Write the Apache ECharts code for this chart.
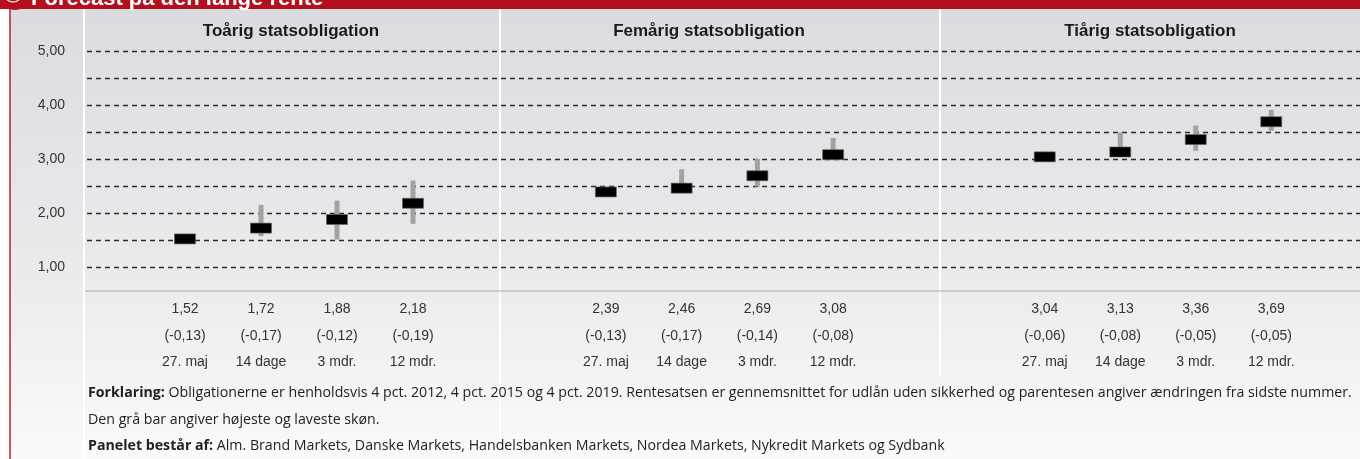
<!DOCTYPE html>
<html>
<head>
<meta charset="utf-8">
<script src="https://cdn.jsdelivr.net/npm/echarts@6/dist/echarts.min.js"></script>
<style>
  html, body { margin: 0; padding: 0; background: #fff; }
  #main { width: 1360px; height: 459px; }
</style>
</head>
<body>
<div id="main"></div>
<script>
// perioder
var dates = ['27. maj', '14 dage', '3 mdr.', '12 mdr.'];
var panelTitles = ['Toårig statsobligation', 'Femårig statsobligation', 'Tiårig statsobligation'];

// gennemsnit og aendring
var toaarig = [1.52, 1.72, 1.88, 2.18];
var toaarigChg = [-0.13, -0.17, -0.12, -0.19];
var femaarig = [2.39, 2.46, 2.69, 3.08];
var femaarigChg = [-0.13, -0.17, -0.14, -0.08];
var tiaarig = [3.04, 3.13, 3.36, 3.69];
var tiaarigChg = [-0.06, -0.08, -0.05, -0.05];

// hoejeste / laveste skoen (graa bar)
var toaarigHigh = [1.58, 2.15, 2.23, 2.60];
var toaarigLow = [1.48, 1.57, 1.51, 1.80];
var femaarigHigh = [2.42, 2.81, 3.00, 3.39];
var femaarigLow = [2.35, 2.45, 2.49, 2.98];
var tiaarigHigh = [3.08, 3.49, 3.62, 3.91];
var tiaarigLow = [3.00, 3.12, 3.15, 3.52];

var yTicks = [1, 2, 3, 4, 5];

var FONT = '"Liberation Sans", Arial, sans-serif';
var FONT2 = '"Open Sans", "Liberation Sans", sans-serif';

function dk(v) { return v.toFixed(2).replace('.', ','); }

var panels = [
  { vals: toaarig, chg: toaarigChg, hi: toaarigHigh, lo: toaarigLow, left: 147, width: 304 },
  { vals: femaarig, chg: femaarigChg, hi: femaarigHigh, lo: femaarigLow, left: 568, width: 303 },
  { vals: tiaarig, chg: tiaarigChg, hi: tiaarigHigh, lo: tiaarigLow, left: 1007, width: 302 }
];

var grids = [{ left: 87, right: 0, top: 51, bottom: 192 }];
var xAxes = [{ gridIndex: 0, type: 'value', show: false, min: 0, max: 1 }];
var yAxes = [{
  gridIndex: 0, type: 'value', min: 1, max: 5, interval: 0.5,
  axisLine: { show: false }, axisTick: { show: false },
  axisLabel: {
    margin: 22, fontSize: 14, color: '#333', fontFamily: FONT,
    formatter: function (v) { return yTicks.indexOf(v) >= 0 ? dk(v) : ''; }
  },
  splitLine: { lineStyle: { color: '#2b2b2b', width: 1.3, type: [5, 4] } }
}];
var series = [];

panels.forEach(function (p, i) {
  var gi = i + 1;
  grids.push({ left: p.left, width: p.width, top: 51, bottom: 192 });
  xAxes.push({
    gridIndex: gi, type: 'category', data: dates, boundaryGap: true,
    axisLine: { show: false }, axisTick: { show: false }, splitLine: { show: false },
    axisLabel: {
      interval: 0, margin: 29, fontSize: 14, color: '#333', fontFamily: FONT, lineHeight: 26.5,
      formatter: function (v, idx) {
        return dk(p.vals[idx]) + '\n(' + dk(p.chg[idx]) + ')\n' + v;
      }
    }
  });
  yAxes.push({ gridIndex: gi, type: 'value', min: 1, max: 5, show: false, splitLine: { show: false } });

  var rangeData = dates.map(function (d, k) { return [k, p.hi[k], p.lo[k]]; });
  series.push({
    type: 'custom', xAxisIndex: gi, yAxisIndex: gi, z: 3,
    renderItem: function (params, api) {
      var top = api.coord([api.value(0), api.value(1)]);
      var bot = api.coord([api.value(0), api.value(2)]);
      return {
        type: 'rect',
        shape: { x: top[0] - 2.5, y: top[1], width: 5, height: bot[1] - top[1] },
        style: { fill: '#a2a2a2' }
      };
    },
    data: rangeData
  });
  series.push({
    type: 'scatter', xAxisIndex: gi, yAxisIndex: gi, z: 5,
    symbol: 'rect', symbolSize: [21, 10],
    itemStyle: { color: '#000', borderColor: '#666', borderWidth: 0.6, opacity: 1 },
    data: dates.map(function (d, k) { return [k, p.vals[k]]; })
  });
});

var graphics = [
  // baggrund
  { type: 'rect', z: -10, shape: { x: 0, y: 0, width: 1360, height: 459 },
    style: { fill: new echarts.graphic.LinearGradient(0, 0, 0, 1, [
      { offset: 0, color: '#dadbdf' }, { offset: 0.6, color: '#eaebed' }, { offset: 1, color: '#fafafa' }
    ]) } },
  { type: 'rect', z: -9, shape: { x: 0, y: 0, width: 9, height: 459 }, style: { fill: '#fff' } },
  { type: 'line', z: 50, shape: { x1: 10, y1: 8, x2: 10, y2: 459 }, style: { stroke: '#cc2a32', lineWidth: 1.6 } },
  // header
  { type: 'rect', z: 50, shape: { x: 0, y: 0, width: 1360, height: 9 }, style: { fill: '#b40f1d' } },
  { type: 'circle', z: 51, shape: { cx: 15, cy: -4, r: 14 }, style: { fill: '#b40f1d' } },
  { type: 'circle', z: 52, shape: { cx: 13, cy: -7, r: 9 }, style: { fill: 'none', stroke: '#f3c9cc', lineWidth: 1.5 } },
  { type: 'text', z: 52, x: 31, y: 10, style: { text: 'Forecast på den lange rente', fill: '#fff',
    font: 'bold 22px ' + FONT, textVerticalAlign: 'bottom' } },
  // adskillelse
  { type: 'line', z: 40, shape: { x1: 84, y1: 9, x2: 84, y2: 459 }, style: { stroke: '#fff', lineWidth: 2 } },
  { type: 'line', z: 40, shape: { x1: 500, y1: 9, x2: 500, y2: 455 }, style: { stroke: '#fff', lineWidth: 2 } },
  { type: 'line', z: 40, shape: { x1: 940, y1: 9, x2: 940, y2: 375 }, style: { stroke: '#fff', lineWidth: 2 } },
  { type: 'line', z: 41, shape: { x1: 85, y1: 291, x2: 1360, y2: 291 }, style: { stroke: '#a8a8a8', lineWidth: 1 } }
];

var titleX = [291, 709, 1150];
panelTitles.forEach(function (t, i) {
  graphics.push({ type: 'text', z: 45, x: titleX[i], y: 31,
    style: { text: t, fill: '#1a1a1a', font: 'bold 17px ' + FONT, textAlign: 'center', textVerticalAlign: 'middle' } });
});

var notes = [
  { y: 393, text: '{b|Forklaring:} Obligationerne er henholdsvis 4 pct. 2012, 4 pct. 2015 og 4 pct. 2019. Rentesatsen er gennemsnittet for udlån uden sikkerhed og parentesen angiver ændringen fra sidste nummer.' },
  { y: 420, text: 'Den grå bar angiver højeste og laveste skøn.' },
  { y: 446, text: '{b|Panelet består af:} Alm. Brand Markets, Danske Markets, Handelsbanken Markets, Nordea Markets, Nykredit Markets og Sydbank' }
];
notes.forEach(function (n) {
  graphics.push({ type: 'text', z: 45, x: 88, y: n.y,
    style: { text: n.text, fill: '#222', font: '14.2px ' + FONT2, textVerticalAlign: 'middle',
      rich: { b: { fontWeight: 'bold', fontSize: 14.2, fontFamily: FONT2, fill: '#222' } } } });
});

var myChart = echarts.init(document.getElementById('main'));
myChart.setOption({
  animation: false,
  grid: grids,
  xAxis: xAxes,
  yAxis: yAxes,
  series: series,
  graphic: { elements: graphics }
});
</script>
</body>
</html>
